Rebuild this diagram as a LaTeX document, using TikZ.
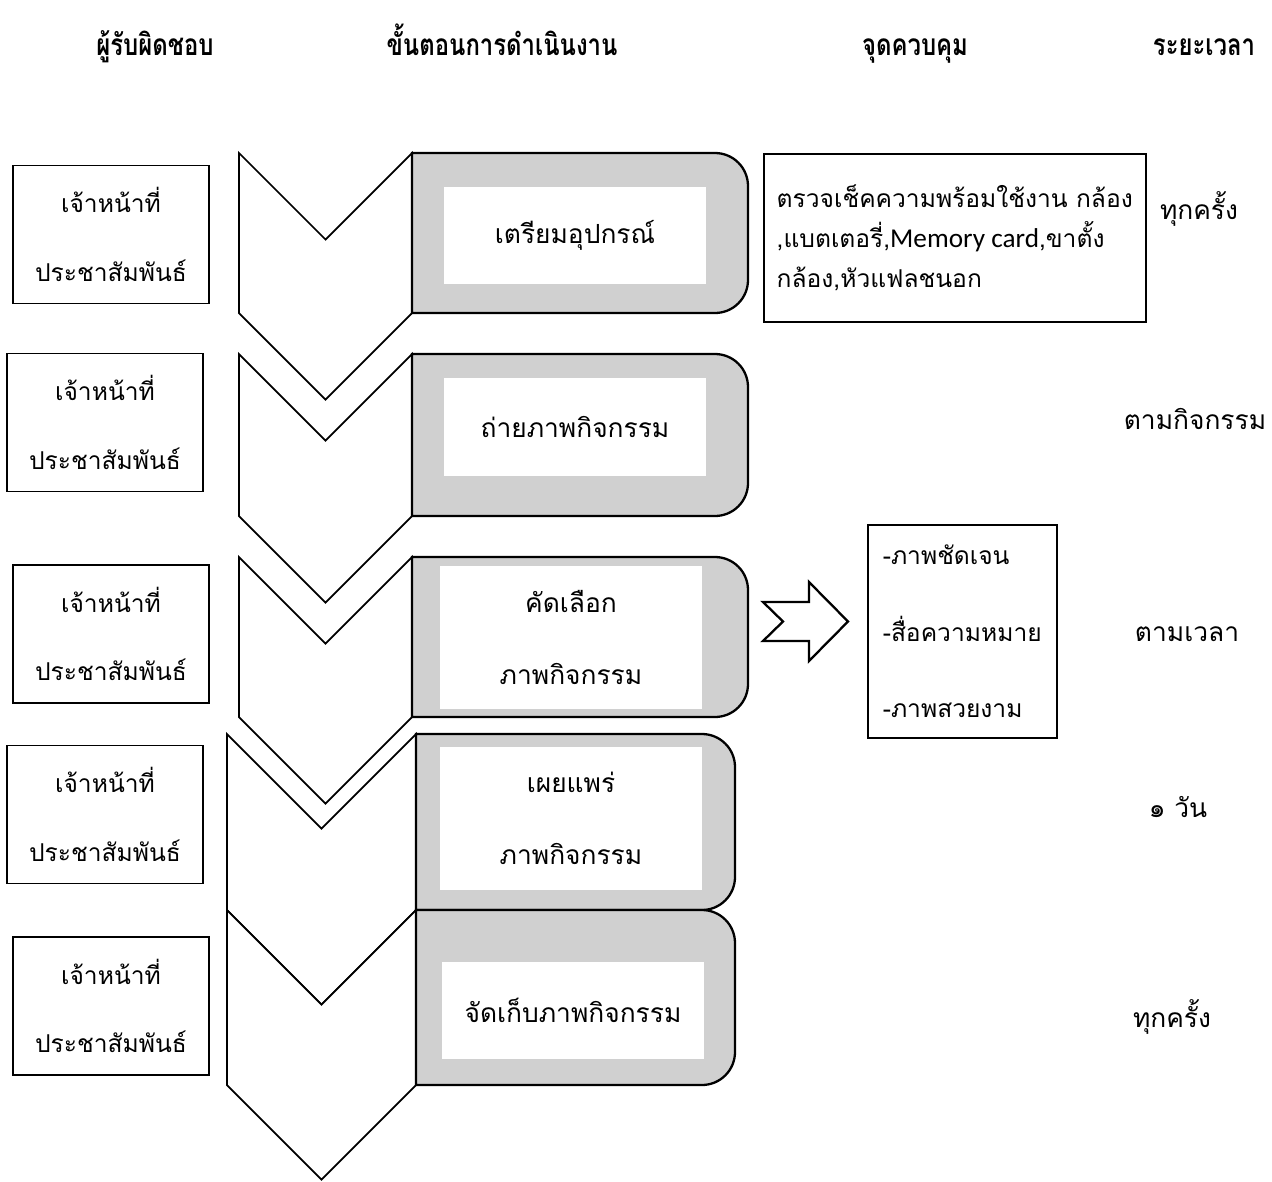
\documentclass[tikz,border=0pt]{standalone}
\usepackage{fontspec}
\newfontfamily\thaifont[Script=Thai]{Loma}
\newfontfamily\headfont[Script=Thai,FakeStretch=0.8]{Loma}
\newfontfamily\cardfont{Carlito}
\usetikzlibrary{positioning}

\definecolor{stepgray}{RGB}{208,208,208}

\begin{document}
\begin{tikzpicture}[x=0.02cm, y=-0.02cm,
    every node/.style={font=\thaifont\fontsize{15}{18}\selectfont},
    header/.style={anchor=base, font=\headfont\bfseries\fontsize{17}{20}\selectfont},
    staffbox/.style={draw, line width=1pt, minimum width=3.92cm, minimum height=2.76cm,
      align=center, font=\thaifont\fontsize{14}{39}\selectfont},
    chevron/.style={draw, fill=white, line width=1pt},
    stepshape/.style={draw, fill=stepgray, line width=1.3pt},
    stepinner/.style={fill=white, inner sep=0pt, minimum width=5.24cm, align=center,
      font=\thaifont\fontsize{15}{41}\selectfont},
    ctrlbox/.style={draw, line width=0.9pt, anchor=north west, align=left, inner sep=0pt},
    timetext/.style={anchor=base}
  ]
  \fill[white] (0,0) rectangle (1272,1181);
  \useasboundingbox (0,0) rectangle (1272,1181);

  % Column headers
  \node[header] (hstaff) at (155,55) {ผู้รับผิดชอบ};
  \node[header] (hsteps) at (502,55) {ขั้นตอนการดำเนินงาน};
  \node[header] (hcheck) at (915,55) {จุดควบคุม};
  \node[header] (htime) at (1204,55) {ระยะเวลา};

  % Responsible staff
  \node[staffbox] (staff1) at (111,234.5) {เจ้าหน้าที่\\ประชาสัมพันธ์};
  \node[staffbox] (staff2) at (105,422.5) {เจ้าหน้าที่\\ประชาสัมพันธ์};
  \node[staffbox] (staff3) at (111,634) {เจ้าหน้าที่\\ประชาสัมพันธ์};
  \node[staffbox] (staff4) at (105,814.5) {เจ้าหน้าที่\\ประชาสัมพันธ์};
  \node[staffbox] (staff5) at (111,1006) {เจ้าหน้าที่\\ประชาสัมพันธ์};

  % Chevrons
  \draw[chevron] (239,153) -- (325.5,239.5) -- (412,153) -- (412,313) -- (325.5,399.5) -- (239,313) -- cycle;
  \draw[chevron] (239,354) -- (325.5,440.5) -- (412,354) -- (412,516) -- (325.5,602.5) -- (239,516) -- cycle;
  \draw[chevron] (239,557) -- (325.5,643.5) -- (412,557) -- (412,717) -- (325.5,803.5) -- (239,717) -- cycle;
  \draw[chevron] (227,734) -- (321.5,828.5) -- (416,734) -- (416,910) -- (321.5,1004.5) -- (227,910) -- cycle;
  \draw[chevron] (227,910) -- (321.5,1004.5) -- (416,910) -- (416,1085) -- (321.5,1179.5) -- (227,1085) -- cycle;

  % Steps
  \draw[stepshape] (412,153) -- (715,153) arc[start angle=90, end angle=0, radius=0.66cm]
    -- (748,280) arc[start angle=0, end angle=-90, radius=0.66cm] -- (412,313) -- cycle;
  \draw[stepshape] (412,354) -- (715,354) arc[start angle=90, end angle=0, radius=0.66cm]
    -- (748,483) arc[start angle=0, end angle=-90, radius=0.66cm] -- (412,516) -- cycle;
  \draw[stepshape] (412,557) -- (715,557) arc[start angle=90, end angle=0, radius=0.66cm]
    -- (748,684) arc[start angle=0, end angle=-90, radius=0.66cm] -- (412,717) -- cycle;
  \draw[stepshape] (416,734) -- (702,734) arc[start angle=90, end angle=0, radius=0.66cm]
    -- (735,877) arc[start angle=0, end angle=-90, radius=0.66cm] -- (416,910) -- cycle;
  \draw[stepshape] (416,910) -- (702,910) arc[start angle=90, end angle=0, radius=0.66cm]
    -- (735,1052) arc[start angle=0, end angle=-90, radius=0.66cm] -- (416,1085) -- cycle;

  \node[stepinner, minimum height=1.94cm] (step1) at (575,235.5) {เตรียมอุปกรณ์};
  \node[stepinner, minimum height=1.96cm] (step2) at (575,427) {ถ่ายภาพกิจกรรม};
  \node[stepinner, minimum height=2.86cm] (step3) at (571,637.5) {คัดเลือก\\ภาพกิจกรรม};
  \node[stepinner, minimum height=2.86cm] (step4) at (571,818.5) {เผยแพร่\\ภาพกิจกรรม};
  \node[stepinner, minimum height=1.94cm] (step5) at (573,1010.5) {จัดเก็บภาพกิจกรรม};

  % Control points
  \node[ctrlbox, minimum width=7.64cm, minimum height=3.36cm,
    font=\thaifont\fontsize{14}{22.7}\selectfont] (check1) at (763,153)
    {ตรวจเช็คความพร้อมใช้งาน กล้อง\\,แบตเตอรี่,{\cardfont\fontsize{15.5}{22.7}\selectfont Memory card},ขาตั้ง\\กล้อง,หัวแฟลชนอก};
  \draw[line width=1.3pt, fill=white] (763,602) -- (809,602) -- (809,582) -- (848,621.5)
    -- (809,661) -- (809,641) -- (763,641) -- (783,621.5) -- cycle;
  \node[ctrlbox, minimum width=3.78cm, minimum height=4.26cm,
    font=\thaifont\fontsize{14}{43.6}\selectfont] (check2) at (867,524)
    {-ภาพชัดเจน\\-สื่อความหมาย\\-ภาพสวยงาม};

  % Time
  \node[timetext] (time1) at (1199,219) {ทุกครั้ง};
  \node[timetext] (time2) at (1195,429) {ตามกิจกรรม};
  \node[timetext] (time3) at (1187,641) {ตามเวลา};
  \node[timetext] (time4) at (1178,817) {๑ วัน};
  \node[timetext] (time5) at (1172,1027) {ทุกครั้ง};
\end{tikzpicture}
\end{document}
